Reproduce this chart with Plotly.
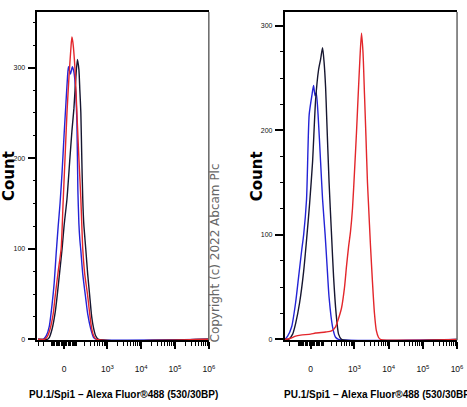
import numpy as np
import plotly.graph_objects as go

# ---------------- data (fluorescence intensity, count) ----------------
# Left panel
L_blue_x = [-300, -202, -160, -125, -94, -76, -59, -43, -29, -14, 0, 14, 25, 32, 47, 63, 76, 89, 104, 114, 125, 136, 148, 173, 218, 252, 313, 386, 476, 1e6]
L_blue_y = [0, 0, 4, 14, 40, 62, 95, 125, 150, 185, 225, 262, 290, 301, 293, 301, 295, 280, 240, 165, 128, 110, 98, 72, 45, 28, 12, 2, 0, 0]

L_red_x = [-300, -187, -148, -114, -85, -67, -43, -21, -7, 7, 21, 36, 51, 59, 67, 85, 104, 125, 148, 173, 202, 252, 292, 336, 386, 476, 1e6]
L_red_y = [0, 0, 3, 12, 28, 48, 75, 100, 150, 200, 250, 290, 322, 334, 328, 300, 250, 200, 155, 100, 72, 48, 28, 12, 4, 0, 0]

L_black_x = [-300, -148, -125, -94, -67, -51, -29, -14, 0, 21, 43, 59, 76, 94, 109, 125, 136, 148, 160, 173, 187, 218, 252, 292, 336, 386, 444, 546, 1e6]
L_black_y = [0, 0, 2, 12, 30, 48, 78, 100, 125, 155, 200, 230, 255, 290, 309, 298, 275, 250, 200, 155, 128, 100, 72, 48, 25, 12, 4, 0, 0]

# Right panel
R_blue_x = [-300, -292, -235, -173, -125, -94, -67, -51, -29, -10, 11, 21, 32, 41, 55, 76, 94, 120, 142, 167, 218, 272, 336, 1e6]
R_blue_y = [0, 0, 3, 12, 35, 60, 85, 100, 134, 215, 235, 243, 233, 236, 215, 170, 134, 100, 70, 40, 12, 2, 0, 0]

R_black_x = [-300, -218, -160, -125, -85, -51, -29, -7, 14, 36, 59, 76, 94, 109, 125, 136, 167, 202, 235, 282, 336, 414, 1e6]
R_black_y = [0, 0, 5, 15, 35, 65, 95, 130, 170, 229, 258, 268, 279, 265, 241, 215, 150, 100, 60, 25, 5, 0, 0]

R_red_x = [-300, -292, -187, -125, -76, 0, 36, 125, 202, 272, 336, 414, 510, 584, 669, 766, 876, 1003, 1149, 1315, 1455,
           1610, 1780, 1969, 2170, 2410, 2577, 2948, 3371, 3854, 4405, 5044, 5768, 1e6]
R_red_y = [0, 0, 1, 3, 4, 5, 6, 7, 8, 12, 20, 30, 50, 70, 88, 103, 125, 160, 198, 240, 270,
           293, 275, 235, 195, 150, 130, 90, 55, 25, 8, 2, 0, 0]

x_tick_values = [0, 1e3, 1e4, 1e5, 1e6]
x_tick_labels = ["0", "10<sup>3</sup>", "10<sup>4</sup>", "10<sup>5</sup>", "10<sup>6</sup>"]
y_tick_values = [0, 100, 200, 300]
y_tick_labels = ["0", "100", "200", "300"]
x_title = "PU.1/Spi1 \u2013 Alexa Fluor\u00ae488 (530/30BP)"
y_title = "Count"
copyright_text = "Copyright (c) 2022 Abcam Plc"

BLUE = "#2323d6"
RED = "#e3262b"
BLACK = "#161630"

# biexponential-like display transform
C = 105.0
def T(v):
    return np.arcsinh(np.asarray(v, dtype=float) / C) / np.log(10)

minor_vals = []
for k in range(1, 10):
    minor_vals.append(-k * 10)
for k in range(1, 4):
    minor_vals.append(-k * 100)
for n in range(1, 6):
    for k in range(1, 10):
        v = k * 10 ** n
        if v not in x_tick_values:
            minor_vals.append(v)

fig = go.Figure()

def add(x, y, color, xa, ya):
    fig.add_trace(go.Scatter(x=T(x), y=y, mode="lines",
                             line=dict(color=color, width=1.4, shape="spline", smoothing=0.6),
                             xaxis=xa, yaxis=ya, showlegend=False, hoverinfo="skip"))

add(L_blue_x, L_blue_y, BLUE, "x", "y")
add(L_black_x, L_black_y, BLACK, "x", "y")
add(L_red_x, L_red_y, RED, "x", "y")
add(R_blue_x, R_blue_y, BLUE, "x2", "y2")
add(R_black_x, R_black_y, BLACK, "x2", "y2")
add(R_red_x, R_red_y, RED, "x2", "y2")

NARROW = "Liberation Sans Narrow, Arial Narrow, Liberation Sans, Arial, sans-serif"
tickfont = dict(family=NARROW, size=8.5, color="#111111")

def xaxis(domain, rng, anchor):
    return dict(domain=domain, range=rng, anchor=anchor, showgrid=False, zeroline=False,
                showline=True, mirror=True, linecolor="black", linewidth=1.5,
                ticks="outside", ticklen=7, tickwidth=1.8, tickcolor="black",
                tickmode="array", tickvals=list(T(x_tick_values)), ticktext=x_tick_labels,
                tickfont=tickfont, ticklabelstandoff=13,
                minor=dict(tickmode="array", tickvals=list(T(minor_vals)), ticks="outside",
                           ticklen=4, tickwidth=1, tickcolor="black", showgrid=False))

def yaxis(domain, rng, anchor):
    return dict(domain=domain, range=rng, anchor=anchor, showgrid=False, zeroline=False,
                showline=True, linecolor="black", linewidth=1.5,
                ticks="outside", ticklen=8, tickwidth=2, tickcolor="black",
                tickmode="array", tickvals=y_tick_values, ticktext=y_tick_labels,
                tickfont=dict(family=NARROW, size=7, color="#111111"),
                ticklabelstandoff=1,
                minor=dict(dtick=25, tick0=0, ticks="outside", ticklen=3, tickwidth=1,
                           tickcolor="black", showgrid=False))

W, H = 467, 407
ydom = [1 - 342 / H, 1 - 12 / H]

fig.update_layout(
    width=W, height=H, margin=dict(l=0, r=0, t=0, b=0),
    paper_bgcolor="white", plot_bgcolor="white",
    xaxis=xaxis([38 / W, 212 / W], [-0.787, 4.28], "y"),
    yaxis=yaxis(ydom, [-1.1, 361.5], "x"),
    xaxis2=xaxis([289 / W, 464 / W], [-0.758, 4.28], "y2"),
    yaxis2=yaxis(ydom, [-0.95, 313.3], "x2"),
)

# gray right border lines
for xr, yr in (("x domain", "y domain"), ("x2 domain", "y2 domain")):
    fig.add_shape(type="line", xref=xr, yref=yr, x0=1, x1=1, y0=0, y1=1,
                  line=dict(color="#666666", width=1.5))

title_font = dict(family="Liberation Sans, Arial, sans-serif", size=10, color="black")
fig.add_annotation(text="<b>" + x_title + "</b>", xref="paper", yref="paper", x=125 / W, y=1 - 396 / H,
                   xanchor="center", yanchor="middle", showarrow=False, font=title_font)
fig.add_annotation(text="<b>" + x_title + "</b>", xref="paper", yref="paper", x=286 / W, y=1 - 396 / H,
                   xanchor="left", yanchor="middle", showarrow=False, font=title_font)

count_font = dict(family="DejaVu Sans, Verdana, sans-serif", size=15, color="black")
fig.add_annotation(text="<b>" + y_title + "</b>", xref="paper", yref="paper", x=9 / W, y=1 - 177 / H,
                   textangle=-90, xanchor="center", yanchor="middle", showarrow=False, font=count_font)
fig.add_annotation(text="<b>" + y_title + "</b>", xref="paper", yref="paper", x=261 / W, y=1 - 177 / H,
                   textangle=-90, xanchor="center", yanchor="middle", showarrow=False, font=count_font)

fig.add_annotation(text=copyright_text, xref="paper", yref="paper", x=218 / W, y=1 - 254 / H,
                   textangle=-90, xanchor="center", yanchor="middle", showarrow=False,
                   font=dict(family="DejaVu Sans, Verdana, sans-serif", size=12, color="#666666"))

fig.write_html("out.html", config={"displayModeBar": False},
               post_script="document.body.style.margin='0';document.body.style.padding='0';")
